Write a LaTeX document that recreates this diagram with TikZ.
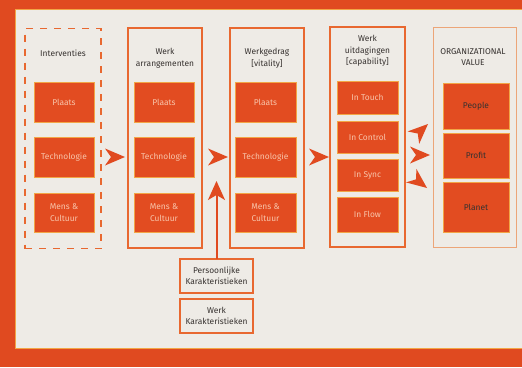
\documentclass[tikz,border=0pt]{standalone}
\usepackage{fontspec}
\setmainfont{Fira Sans}
\usetikzlibrary{arrows.meta}
\definecolor{bgred}{RGB}{224,74,32}
\definecolor{panel}{RGB}{238,235,230}
\definecolor{boxred}{RGB}{226,76,33}
\definecolor{edge}{RGB}{232,104,48}
\definecolor{glow}{RGB}{242,165,70}
\definecolor{lighttext}{RGB}{248,196,170}
\definecolor{darktext}{RGB}{55,50,48}
\definecolor{faint}{RGB}{236,165,120}
\begin{document}
\begin{tikzpicture}[x=1pt,y=-1pt,
  font=\fontsize{8.4}{11.5}\selectfont,
  colbox/.style={draw=edge, line width=1.1pt, inner sep=0pt, outer sep=0pt, minimum width=#1, minimum height=220pt},
  dashbox/.style={colbox=#1, dash pattern=on 7pt off 7pt},
  valbox/.style={draw=faint, line width=0.8pt, inner sep=0pt, outer sep=0pt, minimum width=#1, minimum height=220pt},
  redbox/.style={fill=boxred, draw=glow, line width=0.5pt, text=lighttext, align=center, inner sep=0pt, outer sep=0pt},
  valred/.style={redbox, text=darktext},
  head/.style={text=darktext, align=center, inner sep=0pt},
  smallbox/.style={fill=panel, draw=edge, line width=1.1pt, text=darktext, align=center, inner sep=0pt, outer sep=0pt, minimum width=73pt, minimum height=34pt},
  harrow/.pic={\fill[bgred] (0,0) -- (-20,-8.5) -- (-14,0) -- (-20,8.5) -- cycle;}
]
\useasboundingbox (0,0) rectangle (522,367);
\fill[bgred] (0,0) rectangle (522,367);
\filldraw[fill=panel, draw=glow, line width=0.8pt] (15,9) rectangle (524,348);

% column frames
\node[dashbox=76pt] (c1) at (63,138.5) {};
\node[colbox=74pt] (c2) at (165,138) {};
\node[colbox=74pt] (c3) at (267,138) {};
\node[colbox=75pt] (c4) at (367.5,137) {};
\node[valbox=83pt] (c5) at (474.5,137) {};

% headings
\node[head] (h1) at (63,53) {Interventies};
\node[head] (h2) at (165,58) {Werk\\arrangementen};
\node[head] (h3) at (267,58) {Werkgedrag\\{[}vitality{]}};
\node[head] (h4) at (367.5,51) {Werk\\uitdagingen\\{[}capability{]}};
\node[head] (h5) at (473,57) {ORGANIZATIONAL\\VALUE};

% column 1
\node[redbox, minimum width=60pt, minimum height=40pt] (a1) at (64,102) {Plaats};
\node[redbox, minimum width=60pt, minimum height=40pt] (a2) at (64,157) {Technologie};
\node[redbox, minimum width=60pt, minimum height=39pt] (a3) at (64,212.5) {Mens \&\\Cultuur};
% column 2
\node[redbox, minimum width=60pt, minimum height=40pt] (b1) at (164,102) {Plaats};
\node[redbox, minimum width=60pt, minimum height=40pt] (b2) at (164,157) {Technologie};
\node[redbox, minimum width=60pt, minimum height=39pt] (b3) at (164,212.5) {Mens \&\\Cultuur};
% column 3
\node[redbox, minimum width=61pt, minimum height=40pt] (d1) at (265.5,102) {Plaats};
\node[redbox, minimum width=61pt, minimum height=40pt] (d2) at (265.5,157) {Technologie};
\node[redbox, minimum width=61pt, minimum height=39pt] (d3) at (265.5,212.5) {Mens \&\\Cultuur};
% column 4
\node[redbox, minimum width=61pt, minimum height=33pt] (e1) at (367.5,97.5) {In Touch};
\node[redbox, minimum width=61pt, minimum height=32pt] (e2) at (367.5,137) {In Control};
\node[redbox, minimum width=61pt, minimum height=32pt] (e3) at (367.5,175) {In Sync};
\node[redbox, minimum width=61pt, minimum height=35pt] (e4) at (367.5,214.5) {In Flow};
% column 5
\node[valred, minimum width=66pt, minimum height=46pt] (f1) at (476,106) {People};
\node[valred, minimum width=66pt, minimum height=45pt] (f2) at (476,155.5) {Profit};
\node[valred, minimum width=66pt, minimum height=50pt] (f3) at (476,207) {Planet};

% lower boxes
\node[smallbox] (pk) at (216.5,276) {Persoonlijke\\Karakteristieken};
\node[smallbox] (wk) at (216.5,316) {Werk\\Karakteristieken};

% arrowheads between columns
\pic at (125,157) {harrow};
\pic at (228,157) {harrow};
\pic at (329,157) {harrow};
\pic at (430,155) {harrow};
\pic[rotate=43] at (428,124) {harrow};
\pic[rotate=-38] at (427,188) {harrow};

% vertical arrow
\coordinate (vt) at (216.5,181);
\draw[bgred, line width=2pt, -{Stealth[length=19pt, width=17pt, inset=5pt]}] (pk.north) -- (vt);
\end{tikzpicture}
\end{document}
